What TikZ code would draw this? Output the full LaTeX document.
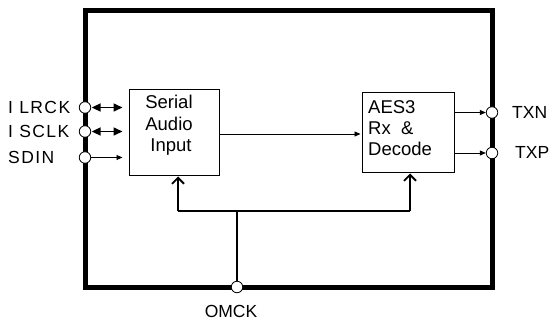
\documentclass[tikz,border=0pt]{standalone}
\usepackage{fontspec}
\setmainfont{Liberation Sans}
\newfontfamily\spacedfont[LetterSpace=8]{Liberation Sans}
\usetikzlibrary{arrows.meta}
\begin{document}
\begin{tikzpicture}[x=1pt,y=-1pt,
  lbl/.style={font=\fontsize{17.5}{20}\selectfont, inner sep=0pt},
  slbl/.style={font=\spacedfont\fontsize{17.5}{20}\selectfont, inner sep=0pt},
  btxt/.style={font=\fontsize{18.5}{21}\selectfont, inner sep=0pt},
  pin/.style={circle, draw, fill=white, line width=0.8pt, minimum size=11.5pt, inner sep=0pt},
  blk/.style={draw, line width=1pt, inner sep=0pt},
  dbl/.style={line width=1.6pt, {Triangle[length=9pt,width=8pt]}-{Triangle[length=9pt,width=8pt]}},
  sig/.style={line width=0.9pt, -{Triangle[length=6pt,width=5pt]}},
  clk/.style={line width=1.8pt},
  clkarr/.style={line width=1.8pt, -{Straight Barb[length=6pt,width=12pt]}}
]
\useasboundingbox (0,0) rectangle (553,320);
\fill[white] (0,0) rectangle (553,320);
% chip outline
\draw[line width=5pt] (85,11) rectangle (492,287);
% blocks
\node[blk, minimum width=90pt, minimum height=86pt] (sai) at (174,133) {};
\node[blk, minimum width=92pt, minimum height=80pt] (aes) at (408,133) {};
% block texts
\node[btxt, anchor=base] (s1) at (169,109) {Serial};
\node[btxt, anchor=base] (s2) at (169,131) {Audio};
\node[btxt, anchor=base] (s3) at (171,152) {Input};
\node[btxt, anchor=base west] (a1) at (368,114) {AES3};
\node[btxt, anchor=base west] (a2) at (368,135) {Rx~~\&};
\node[btxt, anchor=base west] (a3) at (368,156) {Decode};
% pins
\node[pin] (cl1) at (85,107.5) {};
\node[pin] (cl2) at (85,131.5) {};
\node[pin] (cl3) at (85,157.5) {};
\node[pin] (cr1) at (492,112.5) {};
\node[pin] (cr2) at (492,153) {};
\node[pin] (co) at (237,287) {};
% pin labels
\node[slbl, anchor=base west] (l1) at (8,113.5) {I LRCK};
\node[slbl, anchor=base west] (l2) at (8,138) {I SCLK};
\node[slbl, anchor=base west] (l3) at (8,163.5) {SDIN};
\node[lbl, anchor=base west] (r1) at (512,119) {TXN};
\node[lbl, anchor=base west] (r2) at (515,159) {TXP};
\node[lbl, anchor=base] (o1) at (231,317) {OMCK};
% left signals
\draw[dbl, shorten <=0.5pt, shorten >=6pt] (cl1.east) -- (cl1.east -| sai.west);
\draw[dbl, shorten <=0.5pt, shorten >=6pt] (cl2.east) -- (cl2.east -| sai.west);
\draw[sig, shorten >=6pt] (cl3.east) -- (cl3.east -| sai.west);
% serial to AES
\coordinate (m1) at (219,134);
\draw[sig, shorten >=1pt] (m1) -- (m1 -| aes.west);
% outputs
\draw[sig] (cr1.west -| aes.east) -- (cr1.west);
\draw[sig] (cr2.west -| aes.east) -- (cr2.west);
% clock distribution
\coordinate (j) at (237,211);
\coordinate (jl) at (178,211);
\coordinate (jr) at (410,211);
\draw[clk] (co.north) -- (j);
\draw[clk] (jl) -- (jr);
\draw[clkarr] (jl) -- (jl |- sai.south);
\draw[clkarr] (jr) -- (jr |- aes.south);
\end{tikzpicture}
\end{document}
